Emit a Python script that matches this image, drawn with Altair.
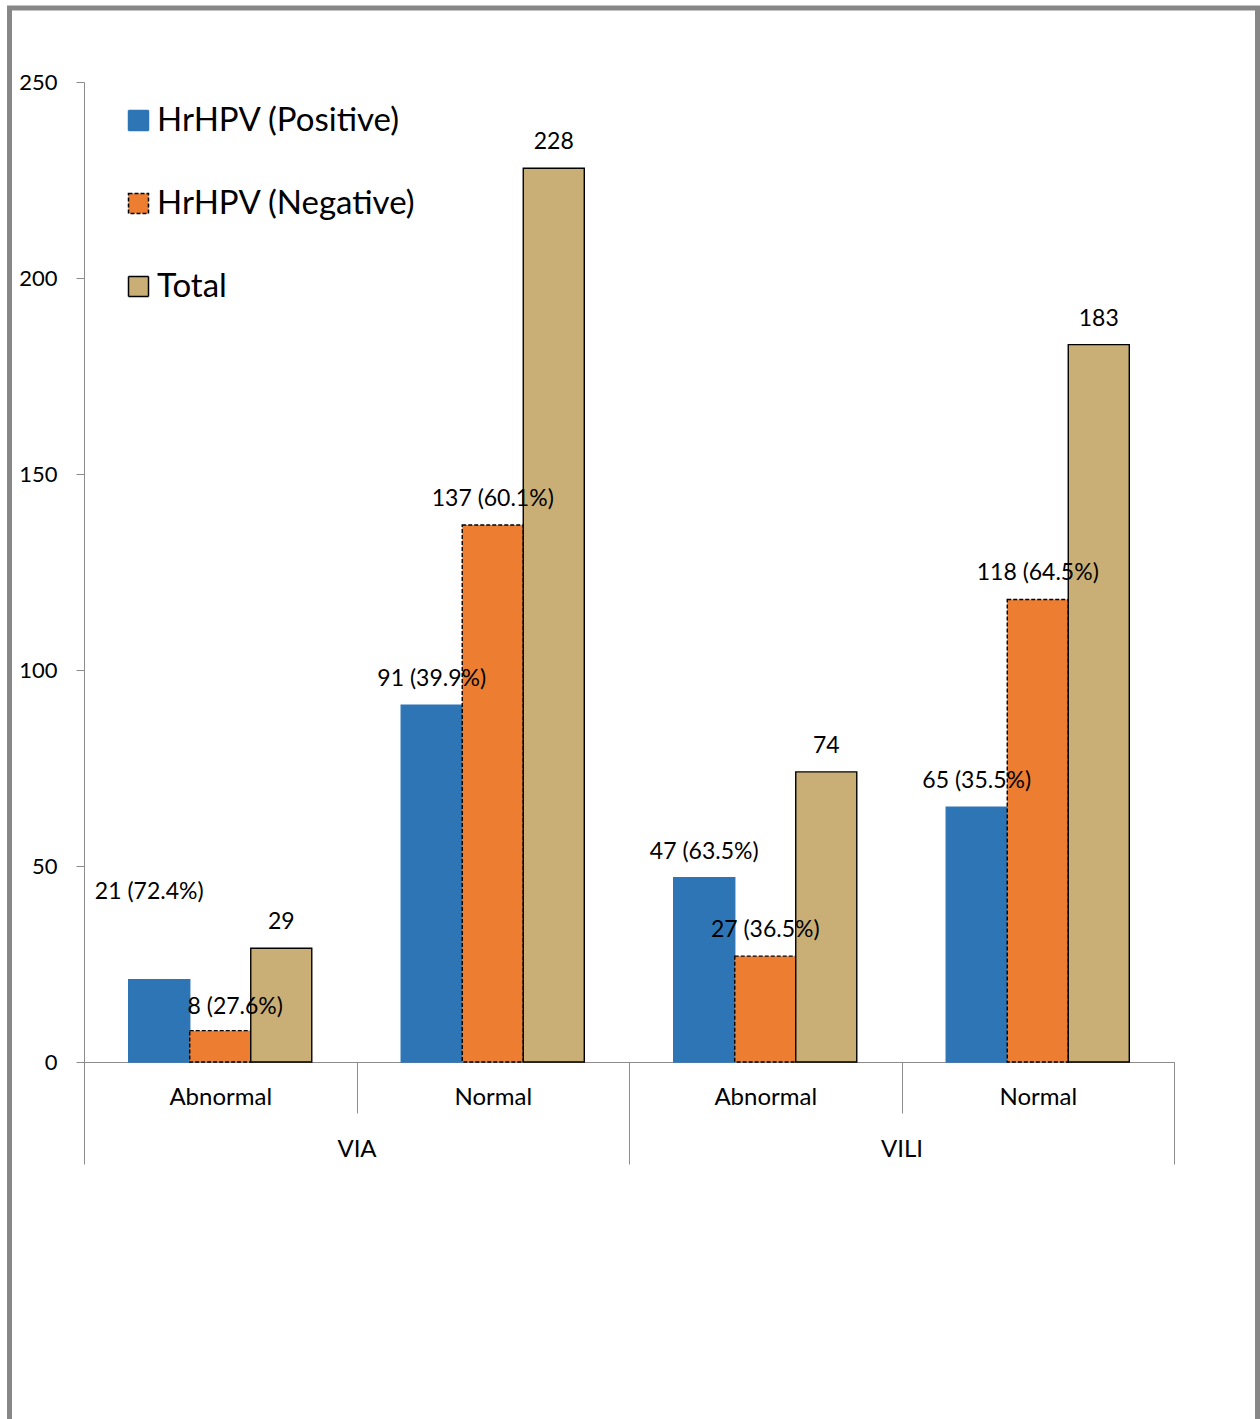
import altair as alt
import pandas as pd

groups = ["VIA", "VIA", "VILI", "VILI"]
categories = ["Abnormal", "Normal", "Abnormal", "Normal"]
positive = [21, 91, 47, 65]
negative = [8, 137, 27, 118]
total = [29, 228, 74, 183]
positive_labels = ["21 (72.4%)", "91 (39.9%)", "47 (63.5%)", "65 (35.5%)"]
negative_labels = ["8 (27.6%)", "137 (60.1%)", "27 (36.5%)", "118 (64.5%)"]
total_labels = ["29", "228", "74", "183"]
series = ["HrHPV (Positive)", "HrHPV (Negative)", "Total"]
y_ticks = [0, 50, 100, 150, 200, 250]

rows = []
for i in range(len(groups)):
    key = f"{groups[i]}|{categories[i]}"
    for s, vals, labs in zip(series, [positive, negative, total],
                             [positive_labels, negative_labels, total_labels]):
        rows.append({"key": key, "group": groups[i], "series": s,
                     "value": vals[i], "label": labs[i]})
df = pd.DataFrame(rows)
keys = [f"{g}|{c}" for g, c in zip(groups, categories)]
group_names = ["VIA", "VILI"]
gdf = pd.DataFrame({"group": group_names})
one = pd.DataFrame({"a": [0]})

FONT = "Lato"
GREY = "#8C8C8C"
W, H = 1090, 980

x_scale = alt.Scale(domain=keys, paddingInner=0, paddingOuter=0)
xo_scale = alt.Scale(domain=series, paddingInner=0, paddingOuter=0.733)
y_scale = alt.Scale(domain=[0, 250], nice=False)

x_axis = alt.Axis(title=None, orient="bottom", labelExpr="split(datum.label, '|')[1]",
                  tickBand="extent", tickSize=51, labelPadding=-28,
                  labelFontSize=24, labelFont=FONT, labelColor="black",
                  tickColor=GREY, domainColor=GREY, labelAngle=0)
y_axis = alt.Axis(title=None, orient="left", values=y_ticks, grid=False, tickSize=8,
                  labelPadding=19, labelFontSize=22, labelFont=FONT,
                  labelColor="black", tickColor=GREY, domainColor=GREY)

leg = alt.Legend(title=None)
bars = alt.Chart(df).mark_bar(strokeWidth=1.4).encode(
    x=alt.X("key:N", sort=keys, scale=x_scale, axis=x_axis),
    xOffset=alt.XOffset("series:N", sort=series, scale=xo_scale),
    y=alt.Y("value:Q", scale=y_scale, axis=y_axis),
    color=alt.Color("series:N", sort=series, legend=leg,
                    scale=alt.Scale(domain=series,
                                    range=["#2E75B6", "#ED7D31", "#C9AF75"])),
    stroke=alt.Stroke("series:N", sort=series, legend=leg,
                      scale=alt.Scale(domain=series,
                                      range=["#2E75B6", "#000000", "#000000"])),
    strokeDash=alt.StrokeDash("series:N", sort=series, legend=leg,
                              scale=alt.Scale(domain=series,
                                              range=[[1, 0], [4, 2], [1, 0]])),
)

def text_layer(flt, dx, dy):
    return alt.Chart(df).transform_filter(flt).mark_text(
        dx=dx, dy=dy, fontSize=23, font=FONT, color="black", baseline="middle"
    ).encode(
        x=alt.X("key:N", sort=keys, scale=x_scale, axis=x_axis),
        xOffset=alt.XOffset("series:N", sort=series, scale=xo_scale),
        y=alt.Y("value:Q", scale=y_scale, axis=y_axis),
        text="label:N",
    )

labels_main = text_layer("datum.label != '21 (72.4%)' && datum.label != '8 (27.6%)'", 0, -26)
label_a = text_layer("datum.label == '21 (72.4%)'", -10, -88)
label_b = text_layer("datum.label == '8 (27.6%)'", 15, -24)

inner = alt.layer(bars, labels_main, label_a, label_b)

grp = alt.Chart(gdf).mark_point(opacity=0).encode(
    x=alt.X("group:N", sort=group_names,
            scale=alt.Scale(domain=group_names, paddingInner=0, paddingOuter=0),
            axis=alt.Axis(title=None, orient="bottom", tickBand="extent", tickSize=102,
                          labelPadding=-27, domain=False, labelFontSize=24,
                          labelFont=FONT, labelColor="black", tickColor=GREY,
                          labelAngle=0)),
    y=alt.value(0),
)

frame = alt.Chart(one).mark_rect(fillOpacity=0, stroke="#878787", strokeWidth=5).encode(
    x=alt.value(-74.5), x2=alt.value(1173.5), y=alt.value(-74), y2=alt.value(1340)
)

chart = alt.layer(frame, inner, grp).resolve_scale(x="independent").properties(
    width=W, height=H,
    autosize=alt.AutoSizeParams(type="none"),
    padding={"left": 84, "top": 82, "right": 86, "bottom": 357},
    background="white",
).configure_view(stroke=None).configure_legend(
    orient="none", legendX=38, legendY=22, symbolType="square", symbolSize=400,
    labelFont=FONT, labelFontSize=33, labelColor="black", rowPadding=49,
    labelOffset=2, symbolStrokeWidth=1.5, labelLimit=400,
)

chart.save("out.html", embed_options={"renderer": "svg", "actions": False})
